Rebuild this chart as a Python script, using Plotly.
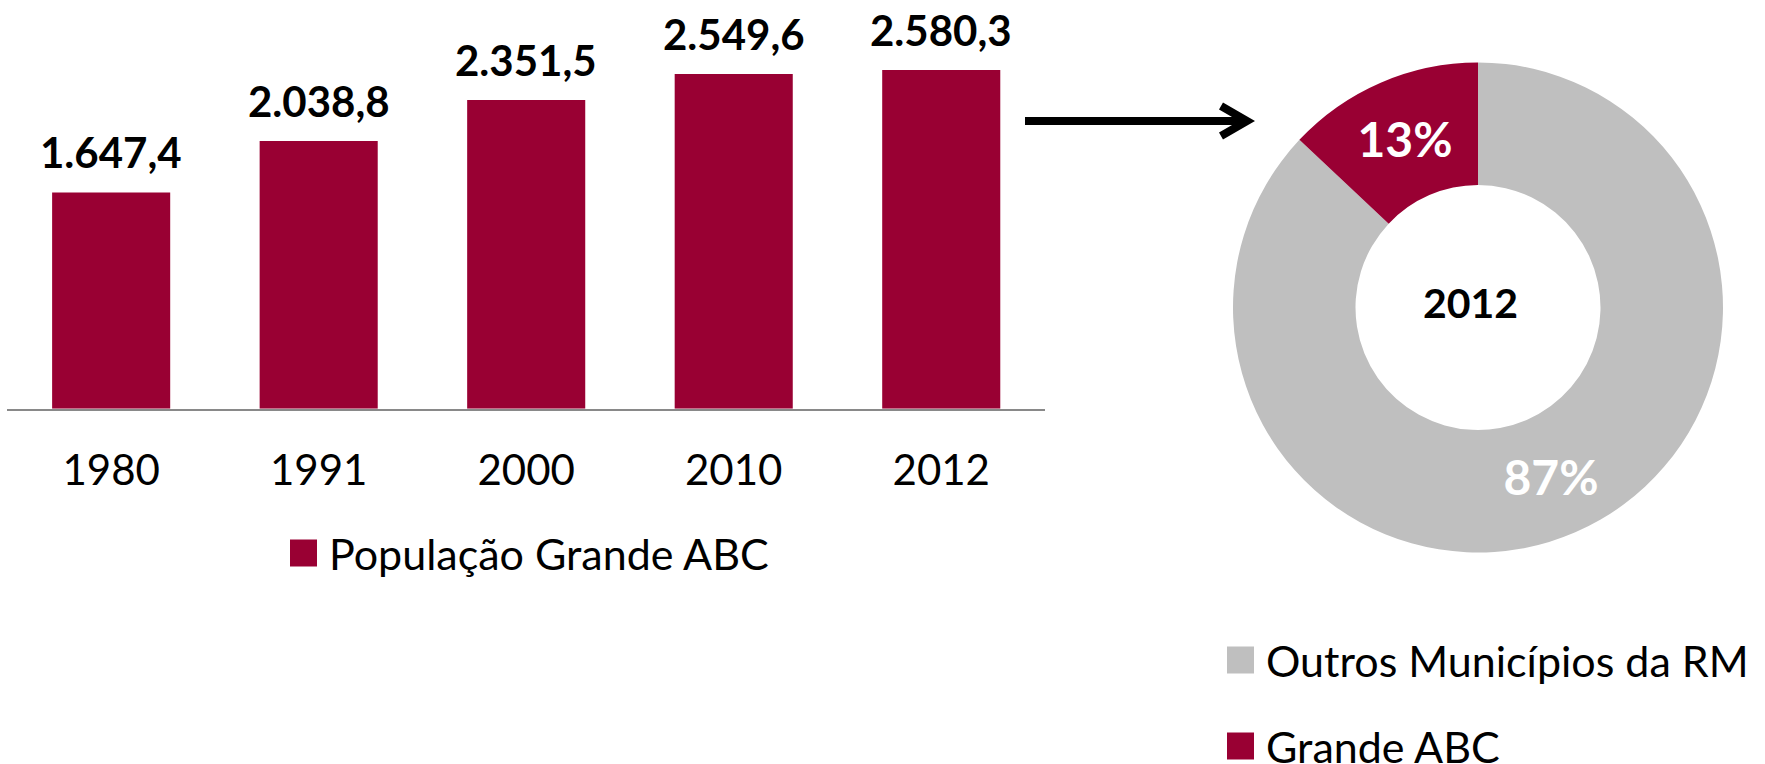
import plotly.graph_objects as go

# Population of Grande ABC (thousands)
years = ["1980", "1991", "2000", "2010", "2012"]
population = [1647.4, 2038.8, 2351.5, 2549.6, 2580.3]

# Share of the metropolitan region population in 2012 (%)
share_labels = ["Outros Municípios da RM", "Grande ABC"]
share_values = [87, 13]
share_year = "2012"

bar_legend = "População Grande ABC"

W, H = 1765, 764
WINE = "#990033"
GREY = "#BFBFBF"
FONT = "Lato"


def px(x):
    return x / W


def py(y):
    return 1 - y / H


def br_number(v):
    s = f"{v:,.1f}"
    return s.replace(",", "X").replace(".", ",").replace("X", ".")


fig = go.Figure()

fig.add_trace(go.Bar(
    x=years, y=population, marker=dict(color=WINE, line=dict(width=0)),
    name=bar_legend, showlegend=False, xaxis="x", yaxis="y",
))

fig.add_trace(go.Pie(
    labels=share_labels, values=share_values, sort=False,
    direction="clockwise", rotation=0, hole=0.5,
    marker=dict(colors=[GREY, WINE], line=dict(width=0)),
    texttemplate="%{percent:.0%}", textposition="inside",
    insidetextorientation="horizontal",
    textfont=dict(family=FONT, size=48, color="white", weight="bold"),
    domain=dict(x=[px(1478 - 245), px(1478 + 245)],
                y=[py(307.5 + 245), py(307.5 - 245)]),
    showlegend=False, hoverinfo="label+percent",
))

annotations = []
for i, v in enumerate(population):
    annotations.append(dict(
        x=i, y=v, xref="x", yref="y", text=br_number(v), showarrow=False,
        yanchor="bottom", yshift=13,
        font=dict(family=FONT, size=42, color="black", weight="bold"),
    ))

# donut centre label
annotations.append(dict(
    x=px(1470), y=py(303), xref="paper", yref="paper", text=share_year,
    showarrow=False, xanchor="center", yanchor="middle",
    font=dict(family=FONT, size=41, color="black", weight="bold"),
))

shapes = []


def legend_item(x0, yc, color, label, size=27):
    shapes.append(dict(type="rect", xref="paper", yref="paper",
                       x0=px(x0), x1=px(x0 + size),
                       y0=py(yc + size / 2), y1=py(yc - size / 2),
                       fillcolor=color, line=dict(width=0)))
    annotations.append(dict(
        x=px(x0 + size + 10), y=py(yc), xref="paper", yref="paper",
        text=label, showarrow=False, xanchor="left", yanchor="middle",
        font=dict(family=FONT, size=43, color="black"),
    ))


legend_item(290, 553, WINE, bar_legend)
legend_item(1227, 660, GREY, share_labels[0])
legend_item(1227, 746, WINE, share_labels[1])

# arrow from the bars to the donut
shapes.append(dict(type="line", xref="paper", yref="paper",
                   x0=px(1025), x1=px(1246), y0=py(121), y1=py(121),
                   line=dict(color="black", width=8)))
shapes.append(dict(type="path", xref="paper", yref="paper",
                   path=f"M {px(1221)},{py(106)} L {px(1247)},{py(121)} L {px(1221)},{py(136)}",
                   line=dict(color="black", width=8)))

fig.update_layout(
    width=W, height=H,
    margin=dict(l=0, r=0, t=0, b=0, autoexpand=False),
    paper_bgcolor="white", plot_bgcolor="white",
    bargap=0.431,
    xaxis=dict(domain=[px(7.4), px(1045)], type="category",
               range=[-0.5, 4.5], automargin=False,
               showline=True, linecolor="#898989", linewidth=2,
               showgrid=False, zeroline=False, ticks="",
               tickfont=dict(family=FONT, size=42, color="black"),
               ticklabelstandoff=24, fixedrange=True),
    yaxis=dict(domain=[py(408.8), 1], range=[0, 3113], visible=False,
               fixedrange=True, automargin=False),
    annotations=annotations, shapes=shapes,
    showlegend=False,
)

fig.write_html("out.html")
